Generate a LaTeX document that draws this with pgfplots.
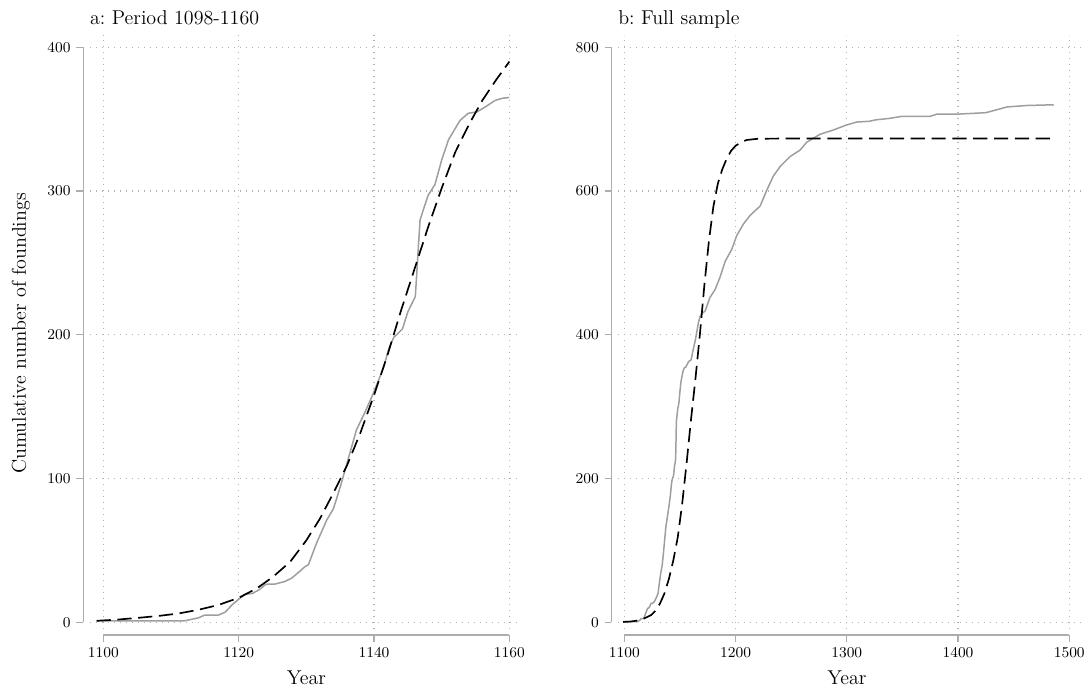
\documentclass[border=0pt]{standalone}
\usepackage{pgfplots}
\pgfplotsset{compat=1.18}
\usepackage{pgfplotstable}
\definecolor{axisgray}{gray}{0.68}
\definecolor{linegray}{gray}{0.62}
\definecolor{gridgray}{gray}{0.70}
\frenchspacing

\pgfplotstableread{
x y
1099 1
1105 1
1110 1
1112 1
1113 2
1114 3
1115 5
1117 5
1118 7
1119 12
1120 16
1121 19.5
1122 20
1123 22.5
1124 26.4
1125.4 26.6
1126.8 28.3
1127.8 30.6
1128.8 34.5
1129.8 38.7
1130.3 40
1131.5 55
1133 71
1134 79
1135 94
1136 110.6
1137.4 133.8
1138.7 146.5
1139.9 159.3
1141.4 177
1142.2 190.5
1142.9 198
1144.2 204
1145 216
1146.1 226.5
1146.8 280
1148 297
1149 304.5
1150 321.6
1151 335.6
1152.7 349
1153.9 354
1155.2 355
1156.3 358
1157.9 363
1159 364.5
1160 365
}\Lact

\pgfplotstableread{
x y
1099 1
1102 1.8
1105 3
1108 4.3
1111 6
1114 8.6
1117 12
1120 17
1122.7 23.6
1125.1 31.7
1127.6 42
1130 57
1132 72
1134 90
1136 109
1138 132
1140 158
1142 186
1144 217
1146 246
1148 275
1150 302
1152 327
1154 346
1156 363
1158 377
1160 390
}\Lfit

\pgfplotstableread{
x y
1099 1
1110 1
1112 1
1114 3
1115 5
1117 5
1118 7
1119 12
1120 16
1121 19.5
1122 20
1123 22.5
1124 26.4
1125.4 26.6
1126.8 28.3
1128.8 34.5
1130.3 40
1131.5 55
1133 71
1134 79
1135 94
1136 110.6
1137.4 133.8
1138.7 146.5
1139.9 159.3
1141.4 177
1142.2 190.5
1142.9 198
1144.2 204
1145 216
1146.1 226.5
1146.8 280
1148 297
1149 304.5
1150 321.6
1151 335.6
1152.7 349
1153.9 354
1155.2 355
1157.9 363
1160 365
1162 380
1164 394
1166.6 417
1168 425
1170 430
1172.6 433
1177 452
1181.6 463
1186 480
1190.6 502
1196.6 519
1201 538
1207 554
1213 566
1222 579
1228 601
1234 621
1240 634
1249 648
1258 657
1264 668
1276 679
1288 685
1300 692
1309 696
1320 697
1326 699
1338 701
1350 704
1375 704
1381 707
1400 707
1425 709
1437 714
1444 717
1462 719
1486 720
}\Ract

\pgfplotstableread{
x y
1099 0.5
1105 1
1110 2
1116 4
1120 7
1124 10
1128 16
1132 26
1136 40
1140 60
1144 86
1148 118
1152 165
1156 222
1160 283
1164 340
1168 402
1172 470
1176 530
1180 578
1184 610
1188 630
1192 645
1196 656
1200 663
1205 668
1210 671
1220 672.7
1240 673
1486 673
}\Rfit

\pgfplotsset{
  dataaxis/.style={
    scale only axis,
    anchor=south west,
    clip=false,
    axis line style={draw=none},
    major tick length=0pt,
    tick style={draw=none},
    xticklabels={}, yticklabels={},
    xmajorgrids, ymajorgrids,
    grid style={gridgray, line width=0.7pt, dash pattern=on 0.7pt off 2.9pt},
    minor tick num=0,
  },
  frameaxis/.style={
    scale only axis,
    anchor=south west,
    clip=false,
    axis line style={draw=none},
    tick pos=left,
    tick align=outside,
    major tick length=4pt,
    tick style={axisgray, line width=0.8pt},
    tick label style={font=\fontsize{9.5}{11}\selectfont},
    /pgf/number format/1000 sep={},
    scaled ticks=false,
    minor tick num=0,
  },
  actline/.style={linegray, line width=0.9pt, line join=round},
  fitline/.style={black, line width=1pt, dash pattern=on 8.5pt off 4pt},
}

\newcommand{\lblfont}{\fontsize{12}{14}\selectfont}

\begin{document}
\begin{tikzpicture}
\useasboundingbox (0,0) rectangle (651.6pt,414pt);

% Panel a: grid and data
\begin{axis}[dataaxis,
  at={(53.9pt,36.6pt)},
  width=256.2pt, height=356.5pt,
  xmin=1098, xmax=1161.1,
  ymin=-4.7, ymax=408.6,
  xtick={1100,1120,1140,1160},
  ytick={0,100,200,300,400},
]
\addplot[actline] table[x=x,y=y] {\Lact};
\addplot[fitline] table[x=x,y=y] {\Lfit};
\node[anchor=base west, font=\lblfont, inner sep=0pt] at ([yshift=6pt]rel axis cs:0,1) {a: Period 1098-1160};
\node[rotate=90, anchor=center, font=\lblfont] at ([xshift=-41.3pt,yshift=-1pt]rel axis cs:0,0.5) {Cumulative number of foundings};
\node[anchor=base, font=\lblfont, inner sep=0pt] at ([yshift=-33.6pt]axis cs:1130,-4.7) {Year};
\end{axis}
% Panel a: axis lines and ticks
\begin{axis}[frameaxis,
  at={(49.9pt,33pt)},
  width=260.2pt, height=360.1pt,
  xmin=1097.015, xmax=1161.1,
  ymin=-8.87, ymax=408.6,
  xtick={1100,1120,1140,1160},
  ytick={0,100,200,300,400},
]
\draw[axisgray, line width=0.8pt] (axis cs:1097.015,0) -- (axis cs:1097.015,400);
\draw[axisgray, line width=0.8pt] (axis cs:1100,-8.87) -- (axis cs:1160,-8.87);
\end{axis}

% Panel b: grid and data
\begin{axis}[dataaxis,
  at={(370.8pt,36.6pt)},
  width=277.8pt, height=356.4pt,
  xmin=1094.3, xmax=1510.5,
  ymin=-9.3, ymax=817.1,
  xtick={1100,1200,1300,1400,1500},
  ytick={0,200,400,600,800},
]
\addplot[actline] table[x=x,y=y] {\Ract};
\addplot[fitline] table[x=x,y=y] {\Rfit};
\node[anchor=base west, font=\lblfont, inner sep=0pt] at ([yshift=6pt]rel axis cs:0,1) {b: Full sample};
\node[anchor=base, font=\lblfont, inner sep=0pt] at ([yshift=-33.6pt]axis cs:1300,-9.3) {Year};
\end{axis}
% Panel b: axis lines and ticks
\begin{axis}[frameaxis,
  at={(366.8pt,33pt)},
  width=281.8pt, height=360pt,
  xmin=1088.31, xmax=1510.5,
  ymin=-17.65, ymax=817.1,
  xtick={1100,1200,1300,1400,1500},
  ytick={0,200,400,600,800},
]
\draw[axisgray, line width=0.8pt] (axis cs:1088.31,0) -- (axis cs:1088.31,800);
\draw[axisgray, line width=0.8pt] (axis cs:1100,-17.65) -- (axis cs:1500,-17.65);
\end{axis}
\end{tikzpicture}
\end{document}
